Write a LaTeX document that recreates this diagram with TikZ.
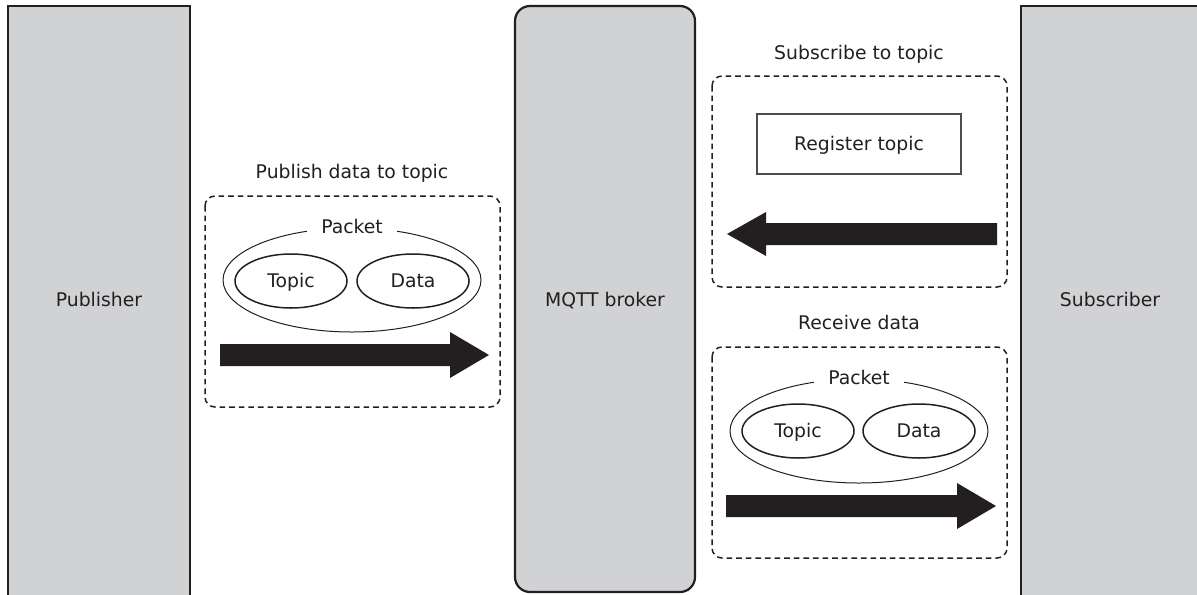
\documentclass[tikz,border=0pt]{standalone}
\usepackage{fontspec}
\setmainfont{DejaVu Sans}
\usepackage{xcolor}
\usetikzlibrary{shapes.geometric, positioning}
\definecolor{colgray}{HTML}{D1D2D4}
\definecolor{ink}{HTML}{231F20}

\tikzset{
  column/.style={draw=ink, line width=1.1pt, fill=colgray},
  group/.style={draw=ink, line width=0.75pt, dash pattern=on 2.8pt off 2pt, rounded corners=5pt},
  field/.style={ellipse, draw=ink, line width=0.75pt, inner sep=0pt, minimum width=56pt, minimum height=27pt},
  packet/.style={ellipse, draw=ink, line width=0.5pt, inner sep=0pt, minimum width=129pt, minimum height=52pt},
  gap/.style={fill=white, inner xsep=7pt, inner ysep=1pt},
  regbox/.style={draw=ink!80, line width=0.6pt, minimum width=102pt, minimum height=30pt},
  blockarrow/.style={fill=ink}
}

\begin{document}
\begin{tikzpicture}[x=0.5pt, y=-0.5pt, every node/.style={font=\fontsize{9.4pt}{11pt}\selectfont, text=ink, text height=7.5pt, text depth=1.2pt}]
  \useasboundingbox (0,0) rectangle (1197,594);
  \clip (0,0) rectangle (1197,594);
  % ---------- COLUMNS ----------
  \draw[column] (8,6) rectangle (190,620);
  \node (pub) at (99,300) {Publisher};
  \draw[column, rounded corners=7.5pt] (515,6) rectangle (695,592);
  \node (broker) at (605,300) {MQTT broker};
  \draw[column] (1021,6) rectangle (1230,620);
  \node (sub) at (1110,300) {Subscriber};

  % ---------- PUBLISH ----------
  \node (pubtitle) at (352,172) {Publish data to topic};
  \draw[group] (205,196) rectangle (500,407);
  \node[packet] (pubpkt) at (352,280) {};
  \node[gap] (pubpktlabel) at (pubpkt.north) {Packet};
  \node[field] (pubtopic) at (291,281) {Topic};
  \node[field] (pubdata) at (413,281) {Data};
  \fill[blockarrow] (220,344) -- (450,344) -- (450,332) -- (489,355)
    -- (450,378) -- (450,366) -- (220,366) -- cycle;

  % ---------- SUBSCRIBE ----------
  \node (subtitle) at (859,53) {Subscribe to topic};
  \draw[group] (712,76) rectangle (1007,287);
  \node[regbox] (register) at (859,144) {Register topic};
  \fill[blockarrow] (997,223) -- (766,223) -- (766,212) -- (727,234)
    -- (766,256) -- (766,245) -- (997,245) -- cycle;

  % ---------- RECEIVE ----------
  \node (rcvtitle) at (859,323) {Receive data};
  \draw[group] (712,347) rectangle (1007,558);
  \node[packet] (rcvpkt) at (859,431) {};
  \node[gap] (rcvpktlabel) at (rcvpkt.north) {Packet};
  \node[field] (rcvtopic) at (798,431) {Topic};
  \node[field] (rcvdata) at (919,431) {Data};
  \fill[blockarrow] (726,495) -- (957,495) -- (957,483) -- (996,506)
    -- (957,529) -- (957,517) -- (726,517) -- cycle;
\end{tikzpicture}
\end{document}
